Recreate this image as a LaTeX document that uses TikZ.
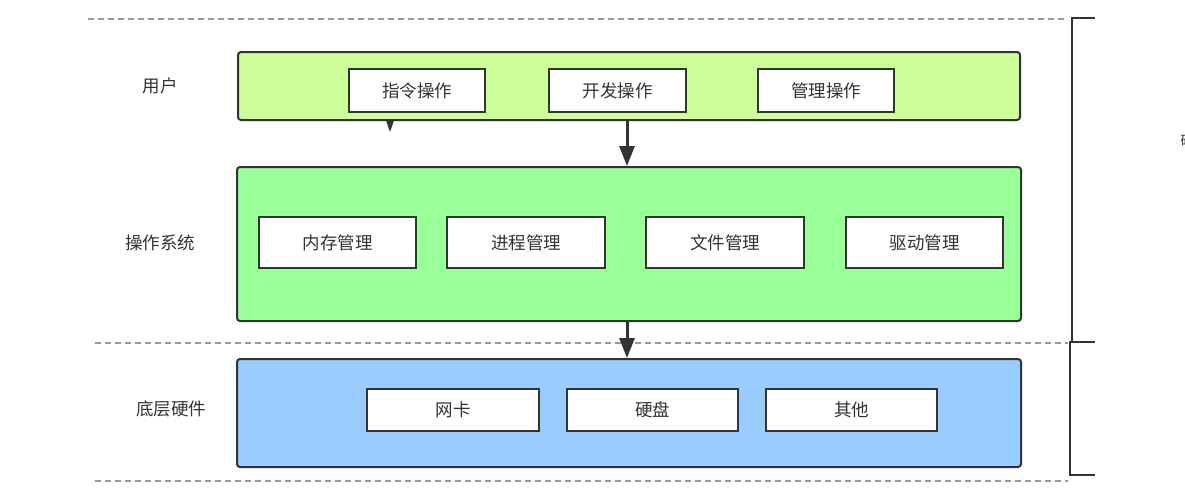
\documentclass[tikz,border=0pt]{standalone}
\usepackage{fontspec}
\setmainfont{Noto Sans CJK SC}
\usetikzlibrary{arrows.meta}
\definecolor{dk}{HTML}{333333}
\definecolor{usr}{HTML}{CCFF99}
\definecolor{osc}{HTML}{99FF99}
\definecolor{hw}{HTML}{99CCFF}
\definecolor{dsh}{HTML}{999999}
\tikzset{
  layer/.style={draw=dk, line width=2pt, rounded corners=3pt},
  item/.style={draw=dk, fill=white, line width=2.4pt, font=\fontsize{17.5}{20}\selectfont, text=dk},
  lbl/.style={font=\fontsize{17.5}{20}\selectfont, text=dk},
  sep/.style={draw=dsh, dash pattern=on 6pt off 4pt, line width=1.4pt},
  arr/.style={draw=dk, line width=3pt, -{Triangle[width=15pt,length=20pt]}},
  brk/.style={draw=dk, line width=2.5pt}
}
\begin{document}
\begin{tikzpicture}[x=1pt,y=-1pt]
\useasboundingbox (0,0) rectangle (1185,501);
% separators
\draw[sep] (88,19) -- (1068,19);
\draw[sep] (95,343) -- (1068,343);
\draw[sep] (95,481) -- (1068,481);
% brackets
\draw[brk] (1095,18) -- (1072,18) -- (1072,342) -- (1095,342);
\draw[brk] (1095,342) -- (1070,342) -- (1070,475) -- (1095,475);
\node[lbl, anchor=west, font=\fontsize{13}{15}\selectfont] (hwtxt) at (1177,141) {硬件};
% layers
\node[layer, fill=usr, minimum width=782pt, minimum height=68pt, anchor=north west] (user) at (237,51) {};
\node[layer, fill=osc, minimum width=784pt, minimum height=154pt, anchor=north west] (os) at (236,166) {};
\node[layer, fill=hw, minimum width=784pt, minimum height=108pt, anchor=north west] (hwl) at (236,358) {};
% labels
\node[lbl] (luser) at (160,86) {用户};
\node[lbl] (los) at (160,243) {操作系统};
\node[lbl] (lhw) at (171,409) {底层硬件};
% user items
\node[item, minimum width=136pt, minimum height=43pt, anchor=north west] (u1) at (348,68) {指令操作};
\node[item, minimum width=137pt, minimum height=43pt, anchor=north west] (u2) at (548,68) {开发操作};
\node[item, minimum width=136pt, minimum height=43pt, anchor=north west] (u3) at (757,68) {管理操作};
% os items
\node[item, minimum width=157pt, minimum height=51pt, anchor=north west] (o1) at (258,216) {内存管理};
\node[item, minimum width=158pt, minimum height=51pt, anchor=north west] (o2) at (446,216) {进程管理};
\node[item, minimum width=158pt, minimum height=51pt, anchor=north west] (o3) at (645,216) {文件管理};
\node[item, minimum width=157pt, minimum height=51pt, anchor=north west] (o4) at (845,216) {驱动管理};
% hw items
\node[item, minimum width=172pt, minimum height=42pt, anchor=north west] (h1) at (366,388) {网卡};
\node[item, minimum width=171pt, minimum height=42pt, anchor=north west] (h2) at (566,388) {硬盘};
\node[item, minimum width=171pt, minimum height=42pt, anchor=north west] (h3) at (765,388) {其他};
% arrows
\coordinate (a1s) at (390,120);
\coordinate (a1e) at (390,132);
\draw[draw=dk, line width=1pt, -{Triangle[width=8pt,length=12pt]}] (a1s) -- (a1e);
\draw[arr] (user.south -| 627,0) -- (os.north -| 627,0);
\draw[arr] (os.south -| 627,0) -- (hwl.north -| 627,0);
\end{tikzpicture}
\end{document}
